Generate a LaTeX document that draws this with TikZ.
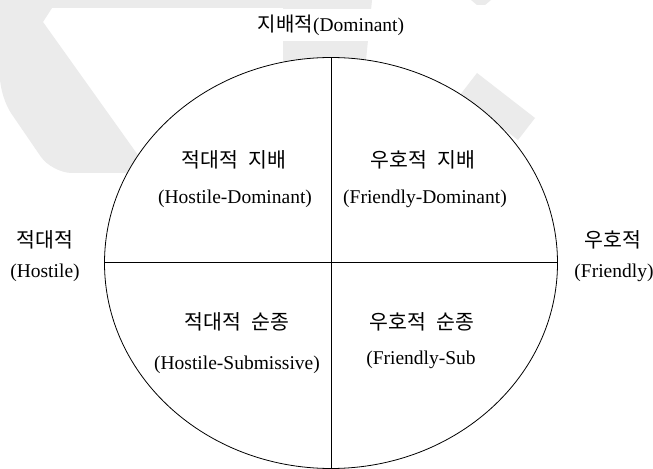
\documentclass[tikz,border=0pt]{standalone}
\usepackage{fontspec}
\setmainfont{Liberation Serif}
\newfontfamily\krfont{Noto Sans CJK KR}
\usetikzlibrary{shapes.geometric}
\newcommand{\ksp}{\hspace{0.5em}}
\begin{document}
\begin{tikzpicture}[x=1bp,y=-1bp,
  wm/.style={fill=gray!16},
  en/.style={font=\fontsize{19.5bp}{22bp}\selectfont, inner sep=0pt},
  ko/.style={font=\krfont\fontsize{20.5bp}{23bp}\selectfont, inner sep=0pt},
  quadline/.style={line width=1bp}]
\useasboundingbox (0,0) rectangle (653,469);
\fill[white] (0,0) rectangle (653,469);
% watermark
\fill[wm] (0,0) -- (372,0) -- (365,70) -- (283,70) -- (283,8) -- (52,8) -- (43,22)
  -- (145,165) -- (145,173) [rounded corners=20bp] -- (52,173) -- (0,97) [sharp corners] -- cycle;
\fill[wm] (477,73) -- (535,118) -- (518,140) -- (460,95) -- cycle;
\fill[wm] (471,0) -- (491,0) -- (485,5) -- (477,5) -- cycle;
% circle
\node[ellipse, draw, line width=0.8bp, fill=white, minimum width=453bp, minimum height=411bp,
  inner sep=0pt, outer sep=0pt] (E) at (331,263) {};
\draw[quadline] (E.north) -- (E.south);
\draw[quadline] (E.west) -- (E.east);
% title
\node[fill=white, inner xsep=6bp, inner ysep=6bp, font=\fontsize{19.5bp}{22bp}\selectfont] (T) at (331,25)
  {{\krfont\fontsize{20bp}{22bp}\selectfont 지배적}(Dominant)};
% quadrants
\node[ko] (hdk) at (234,160) {적대적\ksp 지배};
\node[en] (hde) at (235,199) {(Hostile-Dominant)};
\node[ko] (fdk) at (423,160) {우호적\ksp 지배};
\node[en] (fde) at (425,199) {(Friendly-Dominant)};
\node[ko] (hsk) at (237,322) {적대적\ksp 순종};
\node[en] (hse) at (237,365) {(Hostile-Submissive)};
\node[ko] (fsk) at (422,322) {우호적\ksp 순종};
\node[en] (fse) at (421,360) {(Friendly-Sub};
% sides
\node[ko] (hk) at (45,240) {적대적};
\node[en] (he) at (45,273) {(Hostile)};
\node[ko] (fk) at (613,240) {우호적};
\node[en] (fe) at (614,273) {(Friendly)};
\end{tikzpicture}
\end{document}
